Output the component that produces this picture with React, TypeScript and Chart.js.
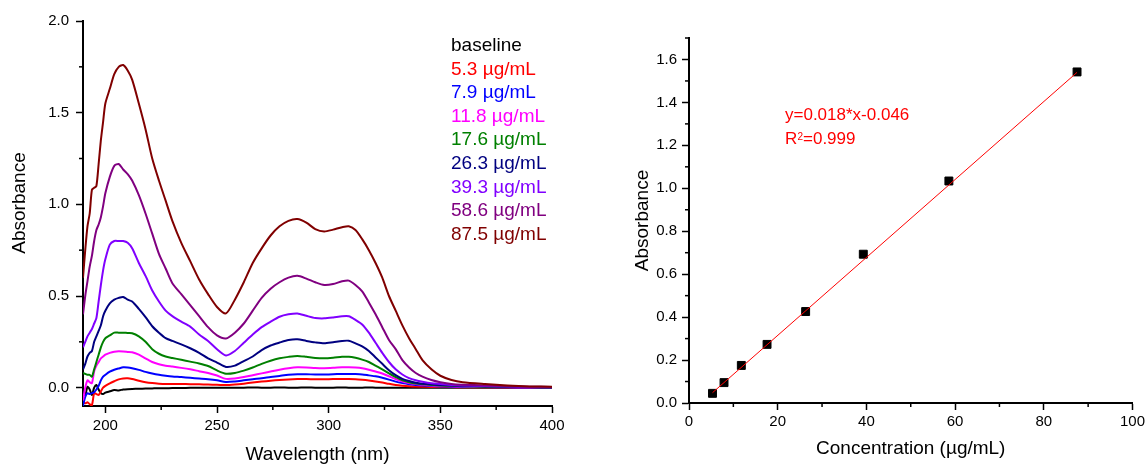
import React, { useEffect, useRef } from 'react';
import { Chart, registerables } from 'chart.js';

Chart.register(...registerables);

const FONT = '"Liberation Sans", Arial, Helvetica, sans-serif';

// ---------- Left chart: UV spectra ----------
const wavelengths = [
  190, 191, 192, 193, 194, 195, 196, 197, 198, 199,
  200, 202, 204, 206, 208, 210, 212, 215, 218, 221,
  224, 227, 230, 234, 238, 242, 246, 250, 254, 258,
  262, 266, 270, 274, 278, 282, 286, 290, 294, 298,
  302, 306, 309, 312, 315, 318, 321, 324, 327, 330,
  333, 336, 339, 342, 346, 350, 355, 360, 370, 380,
  390, 400,
];

const baselineAbs = [
  -0.03, -0.04, 0.005, -0.01, -0.04, 0.0, 0.015, -0.01, -0.03, -0.035,
  -0.027, -0.02, -0.013, -0.015, -0.01, -0.008, -0.007, -0.006, -0.005, -0.004,
  -0.003, -0.003, -0.002, -0.002, -0.001, -0.001, 0.0, 0.0, 0.0, 0.0,
  0.0, 0.001, 0.0, 0.0, 0.001, 0.0, 0.0, 0.001, 0.0, 0.0,
  0.0, 0.001, 0.0, 0.0, 0.0, 0.001, 0.0, 0.0, 0.0, 0.0,
  0.0, 0.0, 0.0, 0.0, 0.0, 0.0, 0.0, 0.0, 0.0, 0.0,
  0.0, 0.0,
];
const abs5_3 = [
  -0.08, -0.085, -0.08, -0.09, -0.095, -0.03, -0.035, -0.04, -0.02, 0.0,
  0.01, 0.024, 0.035, 0.045, 0.05, 0.051, 0.047, 0.038, 0.03, 0.025,
  0.022, 0.02, 0.02, 0.02, 0.019, 0.018, 0.017, 0.016, 0.014, 0.017,
  0.022, 0.028, 0.033, 0.038, 0.042, 0.045, 0.047, 0.047, 0.046, 0.046,
  0.047, 0.047, 0.047, 0.046, 0.043, 0.039, 0.034, 0.028, 0.021, 0.015,
  0.011, 0.008, 0.006, 0.005, 0.004, 0.003, 0.003, 0.002, 0.002, 0.001,
  0.001, 0.001,
];
const abs7_9 = [
  -0.10, -0.05, -0.03, -0.035, -0.03, -0.025, -0.01, 0.01, 0.04, 0.06,
  0.07, 0.087, 0.098, 0.105, 0.111, 0.11, 0.106, 0.097, 0.086, 0.077,
  0.07, 0.065, 0.061, 0.058, 0.054, 0.05, 0.046, 0.04, 0.031, 0.034,
  0.04, 0.046, 0.051, 0.058, 0.064, 0.07, 0.073, 0.073, 0.072, 0.072,
  0.073, 0.075, 0.075, 0.074, 0.072, 0.067, 0.062, 0.054, 0.044, 0.033,
  0.025, 0.019, 0.015, 0.012, 0.009, 0.007, 0.005, 0.004, 0.003, 0.002,
  0.001, 0.001,
];
const abs11_8 = [
  -0.07, 0.0, 0.04, 0.03, 0.025, 0.09, 0.12, 0.14, 0.16, 0.17,
  0.18, 0.19, 0.196, 0.198, 0.197, 0.195, 0.193, 0.18, 0.16, 0.14,
  0.128, 0.12, 0.115, 0.108, 0.1, 0.09, 0.08, 0.066, 0.048, 0.05,
  0.058, 0.068, 0.078, 0.088, 0.098, 0.106, 0.111, 0.11, 0.107, 0.106,
  0.108, 0.111, 0.112, 0.11, 0.106, 0.098, 0.088, 0.077, 0.062, 0.047,
  0.033, 0.025, 0.02, 0.016, 0.012, 0.01, 0.008, 0.006, 0.004, 0.003,
  0.002, 0.002,
];
const abs17_6 = [
  0.08, 0.075, 0.07, 0.07, 0.06, 0.10, 0.14, 0.18, 0.22, 0.25,
  0.27, 0.285, 0.30, 0.30, 0.30, 0.298, 0.297, 0.28, 0.25, 0.21,
  0.185, 0.17, 0.162, 0.152, 0.142, 0.132, 0.118, 0.094, 0.076, 0.08,
  0.093, 0.11, 0.13, 0.147, 0.16, 0.168, 0.173, 0.168, 0.162, 0.16,
  0.163, 0.168, 0.169, 0.163, 0.153, 0.14, 0.12, 0.10, 0.078, 0.058,
  0.04, 0.03, 0.023, 0.019, 0.015, 0.012, 0.01, 0.008, 0.005, 0.004,
  0.003, 0.002,
];
const abs26_3 = [
  0.10, 0.13, 0.17, 0.19, 0.20, 0.25, 0.28, 0.31, 0.34, 0.39,
  0.42, 0.46, 0.48, 0.49, 0.495, 0.48, 0.47, 0.43, 0.385, 0.335,
  0.30, 0.27, 0.255, 0.236, 0.215, 0.19, 0.16, 0.137, 0.113, 0.12,
  0.145, 0.17, 0.205, 0.23, 0.246, 0.26, 0.264, 0.255, 0.247, 0.242,
  0.248, 0.255, 0.256, 0.242, 0.225, 0.20, 0.165, 0.13, 0.095, 0.068,
  0.048, 0.036, 0.027, 0.022, 0.018, 0.015, 0.012, 0.01, 0.007, 0.005,
  0.003, 0.002,
];
const abs39_3 = [
  0.22, 0.25, 0.28, 0.30, 0.32, 0.35, 0.38, 0.47, 0.56, 0.64,
  0.70, 0.78, 0.80, 0.80, 0.80, 0.79, 0.76, 0.68, 0.61, 0.53,
  0.47, 0.42, 0.39, 0.36, 0.333, 0.29, 0.255, 0.21, 0.176, 0.20,
  0.245, 0.29, 0.33, 0.36, 0.387, 0.40, 0.405, 0.392, 0.38, 0.378,
  0.383, 0.39, 0.39, 0.37, 0.345, 0.30, 0.245, 0.19, 0.14, 0.10,
  0.072, 0.052, 0.04, 0.032, 0.024, 0.02, 0.015, 0.012, 0.009, 0.006,
  0.004, 0.003,
];
const abs58_6 = [
  0.40, 0.50, 0.58, 0.66, 0.72, 0.80, 0.86, 0.89, 0.93, 0.99,
  1.06, 1.15, 1.21, 1.22, 1.19, 1.165, 1.13, 1.05, 0.95, 0.84,
  0.73, 0.65, 0.57, 0.51, 0.45, 0.39, 0.33, 0.285, 0.268, 0.30,
  0.35, 0.42, 0.49, 0.54, 0.575, 0.60, 0.61, 0.595, 0.575, 0.56,
  0.565, 0.58, 0.584, 0.56, 0.525, 0.465, 0.40, 0.33, 0.26, 0.21,
  0.15, 0.11, 0.08, 0.06, 0.042, 0.03, 0.02, 0.016, 0.012, 0.008,
  0.005, 0.004,
];
const abs87_5 = [
  0.60, 0.75, 0.88, 0.95, 1.08, 1.09, 1.10, 1.22, 1.35, 1.45,
  1.55, 1.63, 1.71, 1.75, 1.76, 1.73, 1.68, 1.55, 1.41, 1.25,
  1.13, 1.02, 0.91, 0.79, 0.69, 0.59, 0.51, 0.44, 0.405, 0.48,
  0.575, 0.68, 0.76, 0.83, 0.88, 0.91, 0.92, 0.90, 0.865, 0.852,
  0.862, 0.875, 0.88, 0.86, 0.81, 0.75, 0.68, 0.60, 0.50, 0.42,
  0.34, 0.27, 0.21, 0.15, 0.10, 0.065, 0.042, 0.03, 0.02, 0.012,
  0.007, 0.005,
];

const spectraLabels = [
  'baseline', '5.3 µg/mL', '7.9 µg/mL', '11.8 µg/mL', '17.6 µg/mL',
  '26.3 µg/mL', '39.3 µg/mL', '58.6 µg/mL', '87.5 µg/mL',
];
const spectraColors = [
  '#000000', '#FF0000', '#0000FF', '#FF00FF', '#008000',
  '#000080', '#8000FF', '#800080', '#800000',
];
const spectraValues = [
  baselineAbs, abs5_3, abs7_9, abs11_8, abs17_6, abs26_3, abs39_3, abs58_6, abs87_5,
];

const specXTicks = [200, 250, 300, 350, 400];
const specXMinor = [225, 275, 325, 375];
const specYTicks = [0, 0.5, 1.0, 1.5, 2.0];
const specYMinor = [0.25, 0.75, 1.25, 1.75];

// ---------- Right chart: calibration ----------
const concentrations = [5.3, 7.9, 11.8, 17.6, 26.3, 39.3, 58.6, 87.5];
const absorbances = [0.045, 0.095, 0.175, 0.273, 0.426, 0.693, 1.034, 1.542];
const fitX = [5.3, 87.5];
const fitY = [0.048, 1.54];
const fitEquation = 'y=0.018*x-0.046';
const fitR2 = '=0.999';

const calXTicks = [0, 20, 40, 60, 80, 100];
const calXMinor = [10, 30, 50, 70, 90];
const calYTicks = [0, 0.2, 0.4, 0.6, 0.8, 1.0, 1.2, 1.4, 1.6];
const calYMinor = [0.1, 0.3, 0.5, 0.7, 0.9, 1.1, 1.3, 1.5, 1.7];

type TextItem = {
  text: string; x: number; y: number; color: string; size: number;
  align?: CanvasTextAlign; baseline?: CanvasTextBaseline; rotate?: number;
};

function makeDecor(minorX: number[], minorY: number[], texts: TextItem[]) {
  return {
    id: 'decor',
    afterDraw(chart: any) {
      const ctx = chart.ctx as CanvasRenderingContext2D;
      const xs = chart.scales.x;
      const ys = chart.scales.y;
      ctx.save();
      ctx.strokeStyle = '#000';
      ctx.lineWidth = 1.5;
      const xAxisY = chart.chartArea.bottom;
      minorX.forEach((v) => {
        const p = xs.getPixelForValue(v);
        ctx.beginPath();
        ctx.moveTo(p, xAxisY);
        ctx.lineTo(p, xAxisY + 4);
        ctx.stroke();
      });
      const yAxisX = chart.chartArea.left;
      minorY.forEach((v) => {
        const p = ys.getPixelForValue(v);
        ctx.beginPath();
        ctx.moveTo(yAxisX - 4, p);
        ctx.lineTo(yAxisX, p);
        ctx.stroke();
      });
      texts.forEach((t) => {
        ctx.save();
        ctx.font = `${t.size}px ${FONT}`;
        ctx.fillStyle = t.color;
        ctx.textAlign = t.align || 'left';
        ctx.textBaseline = t.baseline || 'alphabetic';
        ctx.translate(t.x, t.y);
        if (t.rotate) ctx.rotate(t.rotate);
        ctx.fillText(t.text, 0, 0);
        ctx.restore();
      });
      ctx.restore();
    },
  };
}

const axisCommon = (ticksArr: number[], fmt: (v: number) => string, pad: number) => ({
  afterBuildTicks: (axis: any) => {
    axis.ticks = ticksArr.map((v) => ({ value: v }));
  },
  ticks: {
    callback: (v: any) => fmt(Number(v)),
    color: '#000',
    font: { family: FONT, size: 15 },
    padding: pad,
    autoSkip: false,
    maxRotation: 0,
  },
  grid: {
    display: true,
    drawOnChartArea: false,
    drawTicks: true,
    tickLength: 7,
    tickWidth: 1.5,
    tickColor: '#000',
  },
  border: { display: true, color: '#000', width: 2 },
});

function buildSpectra(): any {
  const legendTexts: TextItem[] = spectraLabels.map((lab, i) => ({
    text: lab, x: 451, y: 51 + i * 23.6, color: spectraColors[i], size: 19,
  }));
  legendTexts.push({
    text: 'Absorbance', x: 19.5, y: 203, color: '#000', size: 19,
    align: 'center', baseline: 'middle', rotate: -Math.PI / 2,
  });
  const datasets = spectraValues
    .map((vals, i) => ({
      label: spectraLabels[i],
      data: wavelengths.map((w, j) => ({ x: w, y: vals[j] })),
      borderColor: spectraColors[i],
      borderWidth: 2,
      pointRadius: 0,
      tension: 0.25,
      fill: false,
    }))
    .reverse();
  return {
    type: 'line',
    data: { datasets },
    options: {
      animation: false,
      responsive: false,
      events: [],
      layout: { padding: { left: 0, top: 21, right: 22, bottom: 0 } },
      plugins: { legend: { display: false }, tooltip: { enabled: false } },
      scales: {
        x: {
          type: 'linear',
          min: 190,
          max: 400,
          afterFit: (s: any) => { s.height = 60; },
          title: {
            display: true, text: 'Wavelength (nm)', color: '#000',
            font: { family: FONT, size: 19 }, padding: { top: 0, bottom: 0 },
          },
          ...axisCommon(specXTicks, (v) => String(v), 4),
        },
        y: {
          type: 'linear',
          min: -0.1,
          max: 2.0,
          afterFit: (s: any) => { s.width = 83; },
          ...axisCommon(specYTicks, (v) => v.toFixed(1), 7),
        },
      },
    },
    plugins: [makeDecor(specXMinor, specYMinor, legendTexts)],
  };
}

function buildCalibration(): any {
  const texts: TextItem[] = [
    { text: fitEquation, x: 211, y: 120, color: '#FF0000', size: 17 },
    { text: 'R', x: 211, y: 144, color: '#FF0000', size: 17 },
    { text: '2', x: 223.5, y: 139.5, color: '#FF0000', size: 10 },
    { text: fitR2, x: 229, y: 144, color: '#FF0000', size: 17 },
  ];
  return {
    type: 'scatter',
    data: {
      datasets: [
        {
          label: 'fit',
          data: fitX.map((x, i) => ({ x, y: fitY[i] })),
          showLine: true,
          borderColor: '#FF0000',
          borderWidth: 1,
          pointRadius: 0,
          fill: false,
        },
        {
          label: 'data',
          data: concentrations.map((x, i) => ({ x, y: absorbances[i] })),
          pointStyle: 'rect',
          pointRadius: 5.6,
          backgroundColor: '#000',
          borderColor: '#000',
          borderWidth: 1,
          showLine: false,
        },
      ],
    },
    options: {
      animation: false,
      responsive: false,
      events: [],
      layout: { padding: { left: 0, top: 38, right: 14, bottom: 0 } },
      plugins: { legend: { display: false }, tooltip: { enabled: false } },
      scales: {
        x: {
          type: 'linear',
          min: 0,
          max: 100,
          afterFit: (s: any) => { s.height = 63; },
          title: {
            display: true, text: 'Concentration (µg/mL)', color: '#000',
            font: { family: FONT, size: 19 }, padding: { top: 0, bottom: 6 },
          },
          ...axisCommon(calXTicks, (v) => String(v), 3),
        },
        y: {
          type: 'linear',
          min: 0,
          max: 1.7,
          afterFit: (s: any) => { s.width = 115; },
          title: {
            display: true, text: 'Absorbance', color: '#000',
            font: { family: FONT, size: 19 }, padding: { top: 57.5, bottom: 0 },
          },
          ...axisCommon(calYTicks, (v) => v.toFixed(1), 5),
        },
      },
    },
    plugins: [makeDecor(calXMinor, calYMinor, texts)],
  };
}

function ChartBox({ left, build }: { left: number; build: () => any }) {
  const ref = useRef<HTMLCanvasElement>(null);
  useEffect(() => {
    const chart = new Chart(ref.current as HTMLCanvasElement, build());
    return () => chart.destroy();
  }, []);
  return (
    <div style={{ position: 'absolute', left, top: 0, width: 574, height: 466 }}>
      <canvas ref={ref} width={574} height={466} style={{ display: 'block' }} />
    </div>
  );
}

export default function App() {
  return (
    <div style={{ position: 'fixed', left: 0, top: 0, width: 1148, height: 466, background: '#fff' }}>
      <ChartBox left={0} build={buildSpectra} />
      <ChartBox left={574} build={buildCalibration} />
    </div>
  );
}
